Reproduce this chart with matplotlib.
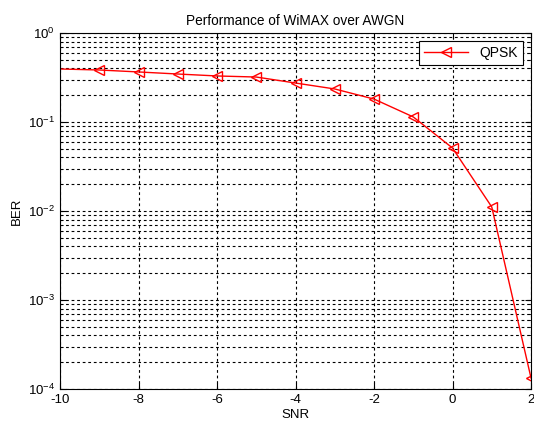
import numpy as np
import matplotlib
matplotlib.use('Agg')
import matplotlib.pyplot as plt
from matplotlib.ticker import LogLocator, NullFormatter, FixedLocator

plt.rcParams['font.family'] = ['Liberation Sans', 'DejaVu Sans']
plt.rcParams['mathtext.default'] = 'regular'
plt.rcParams['axes.unicode_minus'] = False

# SNR vs BER
snr = [-10, -9, -8, -7, -6, -5, -4, -3, -2, -1, 0, 1, 2]
ber = [0.394, 0.384, 0.365, 0.346, 0.329, 0.320, 0.274, 0.235, 0.181, 0.114, 0.051, 0.0111, 1.33e-4]

fig = plt.figure(figsize=(5.34, 4.23), dpi=100)
ax = fig.add_axes([0.1124, 0.0804, 0.882, 0.8416])

ax.semilogy(snr, ber, color='red', lw=1, marker='<', markersize=7,
            markerfacecolor='none', markeredgecolor='red', markevery=range(1, len(snr)),
            label='QPSK')

ax.set_xlim(-10, 2)
ax.set_ylim(1e-4, 1)
ax.xaxis.set_major_locator(FixedLocator([-10, -8, -6, -4, -2, 0, 2]))
ax.yaxis.set_major_locator(LogLocator(base=10, numticks=10))
ax.yaxis.set_minor_locator(LogLocator(base=10, subs=np.arange(2, 10), numticks=20))
ax.yaxis.set_minor_formatter(NullFormatter())

ax.grid(True, which='major', ls=(0, (2.5, 2.5)), color='black', lw=0.8)
ax.grid(True, which='minor', axis='y', ls=(0, (2.5, 2.5)), color='black', lw=0.8)

ax.tick_params(which='both', direction='in', top=True, right=True, labelsize=9.5)
ax.tick_params(which='major', length=4)
ax.tick_params(which='minor', length=2)
for s in ax.spines.values():
    s.set_linewidth(0.8)

ax.set_title('Performance of WiMAX over AWGN', fontsize=9.8, pad=6)
ax.set_xlabel('SNR', fontsize=9.5, labelpad=2)
ax.set_ylabel('BER', fontsize=9.5, labelpad=4)

leg = ax.legend(loc='upper right', fontsize=10, fancybox=False, framealpha=1,
                edgecolor='black', handlelength=3.2, borderpad=0.35,
                borderaxespad=0.6)
leg.get_frame().set_linewidth(0.8)

fig.savefig('out.png', dpi=100)
